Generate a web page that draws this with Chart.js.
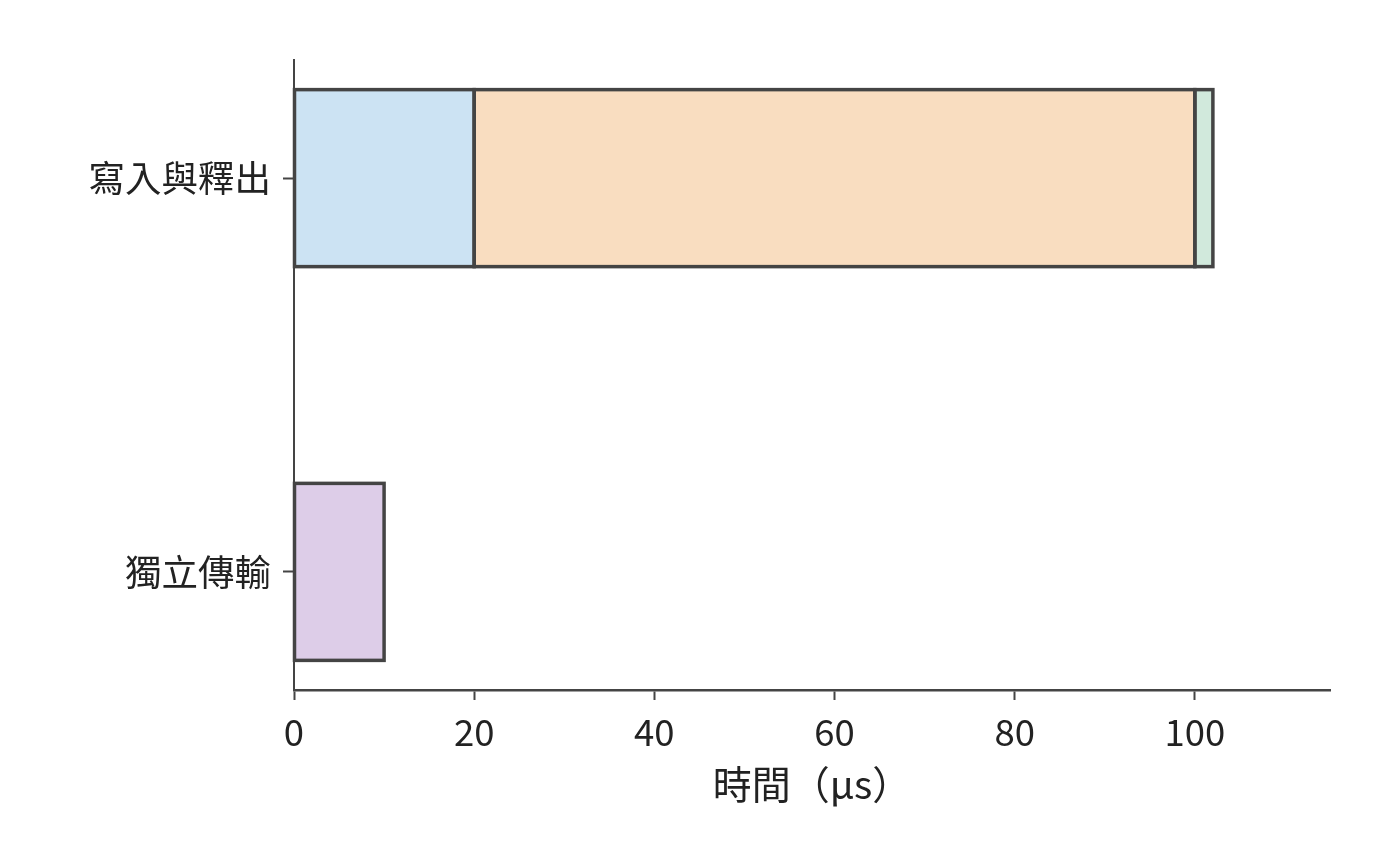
<!DOCTYPE html>
<html><head><meta charset="utf-8">
<script src="https://cdn.jsdelivr.net/npm/chart.js@4"></script>
<style>html,body{margin:0;padding:0;background:#fff}#wrap{width:1400px;height:864px}</style>
</head><body><div id="wrap"><canvas id="c" width="1400" height="864"></canvas></div>
<script>
const categories = ['寫入與釋出', '獨立傳輸'];
const segA = [[0, 20], null];      // blue
const segB = [[20, 100], null];    // orange
const segC = [[100, 102], null];   // green
const segD = [null, [0, 10]];      // purple
const xTicks = [0, 20, 40, 60, 80, 100];
const xTitle = '時間（μs）';

const FONT = '"Noto Sans CJK TC", "Noto Sans CJK SC", sans-serif';
const EDGE = '#444444';
function toPts(arr){ return arr.map((v,i)=> v ? {x:v, y:i} : null).filter(Boolean); }
function ds(arr, color){
  return {data: toPts(arr), backgroundColor: color, borderWidth: 0,
          barThickness: 177, grouped: false};
}
// stroke bar edges centred on bar bounds (matplotlib-style edges)
const edgePlugin = {
  id: 'edges',
  afterDatasetsDraw(chart) {
    const ctx = chart.ctx;
    ctx.save();
    ctx.strokeStyle = EDGE; ctx.lineWidth = 3.5; ctx.lineJoin = 'miter';
    chart.data.datasets.forEach((d, i) => {
      chart.getDatasetMeta(i).data.forEach(el => {
        const p = el.getProps(['x', 'y', 'base', 'height'], true);
        const l = Math.min(p.x, p.base), r = Math.max(p.x, p.base);
        ctx.strokeRect(l, p.y - p.height / 2, r - l, p.height);
      });
    });
    ctx.restore();
  }
};
new Chart(document.getElementById('c'), {
  type: 'bar',
  data: { datasets: [
    ds(segA, '#cce3f3'), ds(segB, '#f9ddc0'), ds(segC, '#d1e9dc'), ds(segD, '#ddcde8')
  ]},
  plugins: [edgePlugin],
  options: {
    indexAxis: 'y', responsive: false, animation: false,
    layout: {padding: {top: 60, right: 70, left: 0, bottom: 0}},
    plugins: {legend: {display: false}, tooltip: {enabled: false}},
    scales: {
      x: {
        type: 'linear', min: 0, max: 115, offset: false,
        afterBuildTicks: s => { s.ticks = xTicks.map(v => ({value: v})); },
        afterFit: s => { s.height = 174; },
        grid: {drawOnChartArea: false, drawTicks: true, tickLength: 10, tickWidth: 2, color: EDGE, offset: false},
        border: {display: true, color: EDGE, width: 2.5},
        ticks: {color: '#222', font: {family: FONT, size: 36.5}, padding: 10},
        title: {display: true, text: xTitle, color: '#222', font: {family: FONT, size: 39}, padding: {top: 0, bottom: 56}}
      },
      y: {
        type: 'linear', min: -0.3, max: 1.3, reverse: true, offset: false,
        afterBuildTicks: s => { s.ticks = categories.map((c, i) => ({value: i})); },
        afterFit: s => { s.width = 294; },
        grid: {drawOnChartArea: false, drawTicks: true, tickLength: 11, tickWidth: 2, color: EDGE, offset: false},
        border: {display: true, color: EDGE, width: 2},
        ticks: {color: '#222', font: {family: FONT, size: 36.5}, padding: 12,
                callback: v => categories[v] ?? ''}
      }
    }
  }
});
</script></body></html>
